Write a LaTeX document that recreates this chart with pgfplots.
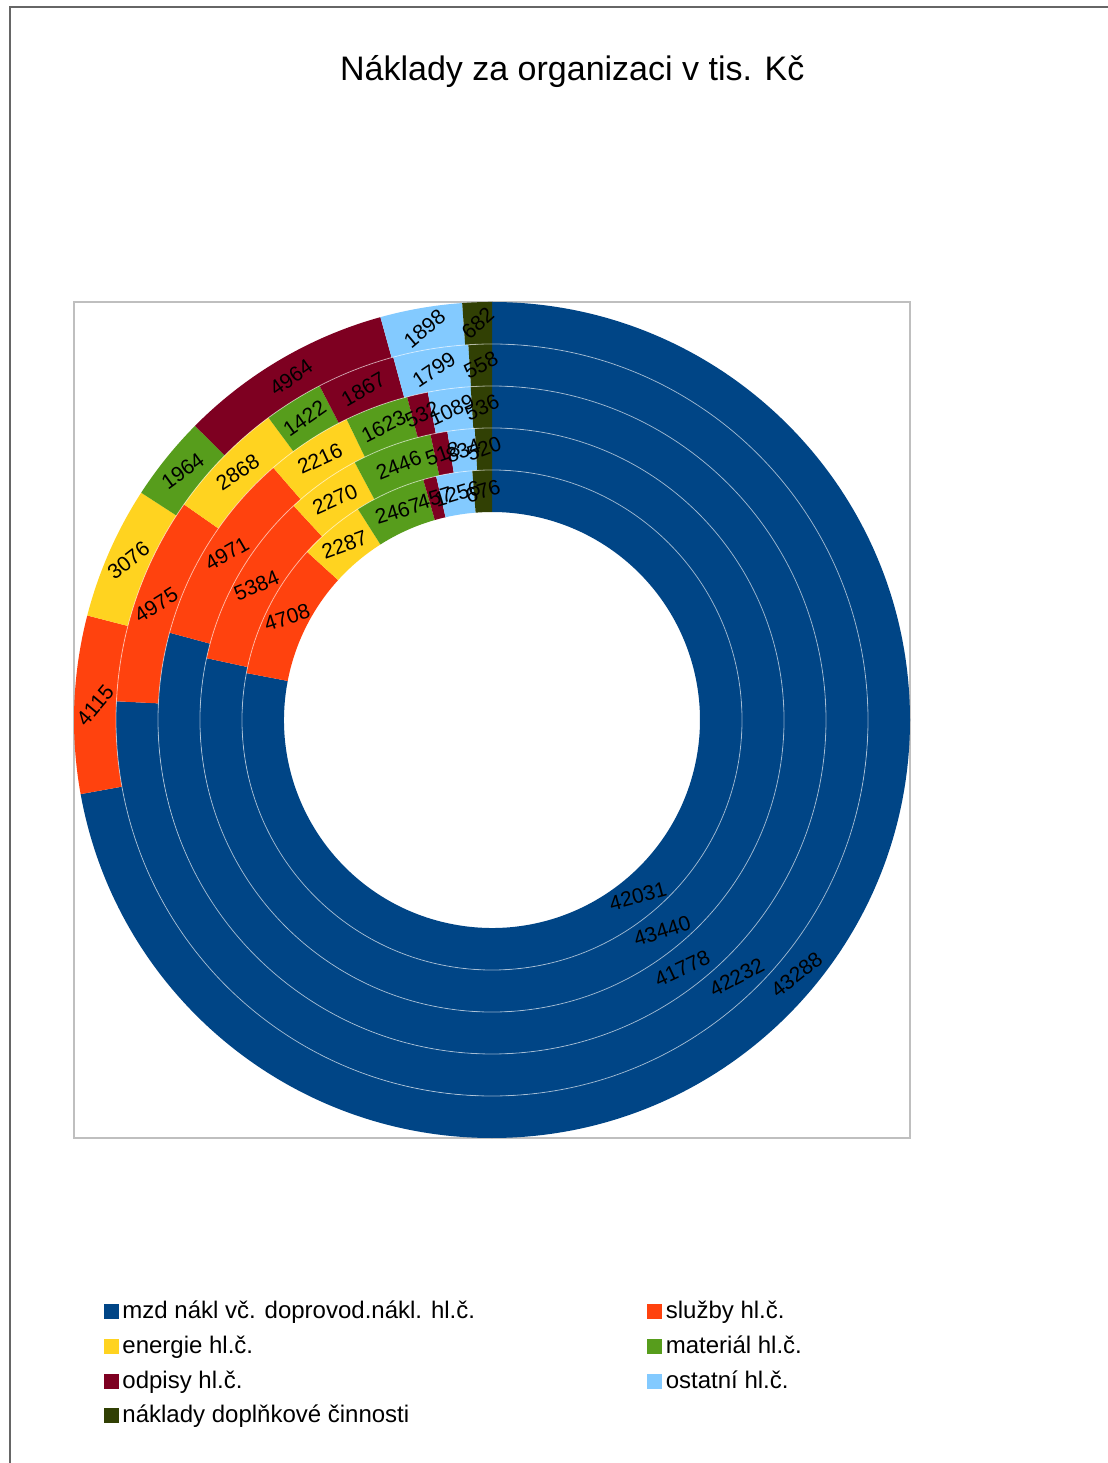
\documentclass[border=0pt]{standalone}
\usepackage{pgfplots}
\pgfplotsset{compat=1.18}
\usepackage{pgfplotstable}
\usepackage{fontspec}
\setmainfont{Liberation Sans}

\definecolor{c0}{HTML}{004586}
\definecolor{c1}{HTML}{FF420E}
\definecolor{c2}{HTML}{FFD320}
\definecolor{c3}{HTML}{579D1C}
\definecolor{c4}{HTML}{7E0021}
\definecolor{c5}{HTML}{83CAFF}
\definecolor{c6}{HTML}{314004}

% values in tis. Kc; r1 = outer ring ... r5 = inner ring
\pgfplotstableread{
cat r1 r2 r3 r4 r5
0 43288 42232 41778 43440 42031
1 4115 4975 4971 5384 4708
2 3076 2868 2216 2270 2287
3 1964 1422 1623 2446 2467
4 4964 1867 532 518 457
5 1898 1799 1089 834 1256
6 682 558 536 520 676
}\costs
% label rotation (deg)
\pgfplotstableread{
cat r1 r2 r3 r4 r5
0 38 28 25 18 15
1 50 32 30 23 18
2 38 33 25 24 20
3 36 35 27 22 17
4 35 30 25 20 17
5 40 34 25 20 17
6 42 27 25 20 17
}\rots

\newcommand\lblfont{\fontsize{10.5}{12}\selectfont}

\newcommand\ringpass[1]{%
\foreach \ring/\rin/\rout in {1/0.8995/1, 2/0.7990/0.8995, 3/0.6986/0.7990, 4/0.5981/0.6986, 5/0.4976/0.5981}{%
  \def\tot{0}%
  \pgfplotsforeachungrouped \row in {0,...,6}{%
    \pgfplotstablegetelem{\row}{r\ring}\of\costs
    \edef\tot{\fpeval{\tot+\pgfplotsretval}}%
  }%
  \def\cum{0}%
  \pgfplotsforeachungrouped \row in {0,...,6}{%
    \pgfplotstablegetelem{\row}{r\ring}\of\costs
    \let\val\pgfplotsretval
    \pgfplotstablegetelem{\row}{r\ring}\of\rots
    \let\lrot\pgfplotsretval
    \edef\a{\fpeval{round(90-360*\cum/\tot,4)}}%
    \edef\cum{\fpeval{\cum+\val}}%
    \edef\b{\fpeval{round(90-360*\cum/\tot,4)}}%
    \edef\m{\fpeval{(\a+\b)/2}}%
    \edef\rmid{\fpeval{(\rin+\rout)/2}}%
    \ifnum#1=0
      \edef\cmd{\noexpand\fill[c\row] (axis cs:\fpeval{round(\rout*cosd(\a),5)},\fpeval{round(\rout*sind(\a),5)}) arc[start angle=\a, end angle=\b, radius=\fpeval{round(\rout*209,4)}pt] -- (axis cs:\fpeval{round(\rin*cosd(\b),5)},\fpeval{round(\rin*sind(\b),5)}) arc[start angle=\b, end angle=\a, radius=\fpeval{round(\rin*209,4)}pt] -- cycle;}%
    \else
      \edef\cmd{\noexpand\node[rotate=\lrot, font=\noexpand\lblfont, inner sep=0pt, text=black] at (axis cs:\fpeval{round(\rmid*cosd(\m),5)},\fpeval{round(\rmid*sind(\m),5)}) {\val};}%
    \fi
    \cmd
  }%
}}

\begin{document}
\begin{tikzpicture}
\useasboundingbox (0,0) rectangle (554pt,731.5pt);
\fill[white] (0,0) rectangle (554pt,731.5pt);
\draw[line width=1.2pt, black!60] (5pt,0pt) -- (5pt,728pt) -- (554pt,728pt);
\begin{axis}[
  at={(246pt,371.5pt)}, anchor=center,
  x=209pt, y=209pt, xmin=-1, xmax=1, ymin=-1, ymax=1,
  xtick=\empty, ytick=\empty, clip=false,
  axis line style={draw=black!25, line width=0.6pt},
  title={Náklady za organizaci v tis. Kč},
  title style={at={(rel axis cs:0.596,1.261)}, anchor=center, font=\fontsize{17}{20}\selectfont},
  legend columns=2,
  legend cell align=left,
  legend style={at={(rel axis cs:0.035,-0.19)}, anchor=north west, draw=none, fill=none,
     inner sep=0pt, font=\fontsize{12}{14}\selectfont, row sep=3pt,
     /tikz/every even column/.append style={column sep=84pt}},
  legend image code/.code={\fill[#1] (0pt,-3.5pt) rectangle (7pt,3.5pt);},
]
\addlegendimage{color=c0}\addlegendentry{mzd nákl vč. doprovod.nákl. hl.č.}
\addlegendimage{color=c1}\addlegendentry{služby hl.č.}
\addlegendimage{color=c2}\addlegendentry{energie hl.č.}
\addlegendimage{color=c3}\addlegendentry{materiál hl.č.}
\addlegendimage{color=c4}\addlegendentry{odpisy hl.č.}
\addlegendimage{color=c5}\addlegendentry{ostatní hl.č.}
\addlegendimage{color=c6}\addlegendentry{náklady doplňkové činnosti}
\ringpass{0}
\foreach \r in {0.8995,0.7990,0.6986,0.5981}{
  \edef\cmd{\noexpand\draw[white, line width=0.4pt, opacity=0.55] (axis cs:0,0) circle[radius=\fpeval{\r*209}pt];}\cmd
}
\ringpass{1}
\end{axis}
\end{tikzpicture}
\end{document}
